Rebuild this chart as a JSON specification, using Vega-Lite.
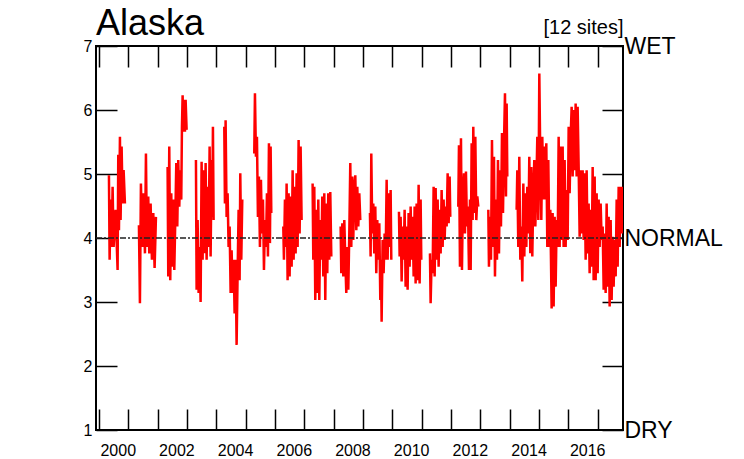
{
"$schema": "https://vega.github.io/schema/vega-lite/v6.json",
"width": 527, "height": 384,
"autosize": {"type": "none"},
"padding": {"left": 96, "top": 46, "right": 121, "bottom": 29},
"title": {"text": "Alaska", "anchor": "start", "frame": "group", "fontSize": 36, "font": "Liberation Sans", "fontWeight": "normal", "color": "black", "offset": -26},
"config": {"view": {"stroke": "black", "strokeWidth": 2}, "font": "Liberation Sans", "axis": {"grid": false, "domain": false, "tickColor": "black", "tickWidth": 1.5, "labelColor": "black", "labelFont": "Liberation Sans"}},
"data": {"values": [
{"t":2000.341,"v":4.98,"s":2000},{"t":2000.364,"v":3.66,"s":2000},{"t":2000.398,"v":4.60,"s":2000},{"t":2000.432,"v":3.86,"s":2000},{"t":2000.466,"v":4.80,"s":2000},{"t":2000.500,"v":3.86,"s":2000},{"t":2000.568,"v":4.44,"s":2000},{"t":2000.602,"v":3.97,"s":2000},{"t":2000.636,"v":3.50,"s":2000},{"t":2000.659,"v":5.30,"s":2000},{"t":2000.682,"v":4.12,"s":2000},{"t":2000.716,"v":5.58,"s":2000},{"t":2000.738,"v":4.28,"s":2000},{"t":2000.773,"v":5.43,"s":2000},{"t":2000.807,"v":4.54,"s":2000},{"t":2000.841,"v":5.06,"s":2000},{"t":2000.886,"v":4.54,"s":2000},
{"t":2001.363,"v":4.20,"s":2001},{"t":2001.397,"v":2.98,"s":2001},{"t":2001.431,"v":4.85,"s":2001},{"t":2001.477,"v":3.86,"s":2001},{"t":2001.522,"v":4.70,"s":2001},{"t":2001.568,"v":3.76,"s":2001},{"t":2001.602,"v":5.32,"s":2001},{"t":2001.636,"v":3.86,"s":2001},{"t":2001.681,"v":4.65,"s":2001},{"t":2001.716,"v":3.76,"s":2001},{"t":2001.761,"v":4.54,"s":2001},{"t":2001.806,"v":3.66,"s":2001},{"t":2001.852,"v":4.39,"s":2001},{"t":2001.897,"v":3.53,"s":2001},{"t":2001.943,"v":4.33,"s":2001},
{"t":2002.340,"v":5.11,"s":2002},{"t":2002.363,"v":3.40,"s":2002},{"t":2002.397,"v":5.43,"s":2002},{"t":2002.431,"v":3.34,"s":2002},{"t":2002.465,"v":4.70,"s":2002},{"t":2002.499,"v":3.55,"s":2002},{"t":2002.534,"v":4.60,"s":2002},{"t":2002.568,"v":3.50,"s":2002},{"t":2002.602,"v":4.28,"s":2002},{"t":2002.636,"v":5.17,"s":2002},{"t":2002.670,"v":4.18,"s":2002},{"t":2002.704,"v":5.22,"s":2002},{"t":2002.738,"v":4.49,"s":2002},{"t":2002.772,"v":5.06,"s":2002},{"t":2002.806,"v":4.60,"s":2002},{"t":2002.829,"v":5.74,"s":2002},{"t":2002.852,"v":6.23,"s":2002},{"t":2002.874,"v":5.66,"s":2002},{"t":2002.897,"v":6.16,"s":2002},{"t":2002.931,"v":5.66,"s":2002},{"t":2002.954,"v":6.16,"s":2002},{"t":2002.988,"v":5.69,"s":2002},
{"t":2003.306,"v":5.22,"s":2003},{"t":2003.329,"v":3.19,"s":2003},{"t":2003.363,"v":4.28,"s":2003},{"t":2003.397,"v":3.14,"s":2003},{"t":2003.431,"v":3.86,"s":2003},{"t":2003.465,"v":3.00,"s":2003},{"t":2003.499,"v":5.19,"s":2003},{"t":2003.533,"v":3.66,"s":2003},{"t":2003.567,"v":5.06,"s":2003},{"t":2003.601,"v":3.76,"s":2003},{"t":2003.636,"v":5.17,"s":2003},{"t":2003.670,"v":3.66,"s":2003},{"t":2003.704,"v":4.80,"s":2003},{"t":2003.738,"v":3.86,"s":2003},{"t":2003.772,"v":5.43,"s":2003},{"t":2003.806,"v":3.71,"s":2003},{"t":2003.840,"v":5.22,"s":2003},{"t":2003.863,"v":4.33,"s":2003},{"t":2003.885,"v":5.74,"s":2003},{"t":2003.908,"v":4.28,"s":2003},
{"t":2004.272,"v":5.74,"s":2004},{"t":2004.294,"v":4.54,"s":2004},{"t":2004.317,"v":5.84,"s":2004},{"t":2004.351,"v":4.33,"s":2004},{"t":2004.385,"v":4.70,"s":2004},{"t":2004.419,"v":3.86,"s":2004},{"t":2004.454,"v":4.18,"s":2004},{"t":2004.488,"v":3.14,"s":2004},{"t":2004.522,"v":3.81,"s":2004},{"t":2004.556,"v":3.14,"s":2004},{"t":2004.590,"v":3.66,"s":2004},{"t":2004.624,"v":2.82,"s":2004},{"t":2004.658,"v":3.66,"s":2004},{"t":2004.692,"v":2.33,"s":2004},{"t":2004.726,"v":3.45,"s":2004},{"t":2004.760,"v":4.44,"s":2004},{"t":2004.794,"v":3.34,"s":2004},{"t":2004.817,"v":5.01,"s":2004},{"t":2004.851,"v":3.66,"s":2004},{"t":2004.885,"v":4.60,"s":2004},
{"t":2005.294,"v":5.32,"s":2005},{"t":2005.317,"v":6.26,"s":2005},{"t":2005.351,"v":5.27,"s":2005},{"t":2005.385,"v":5.58,"s":2005},{"t":2005.419,"v":4.33,"s":2005},{"t":2005.453,"v":4.96,"s":2005},{"t":2005.487,"v":3.86,"s":2005},{"t":2005.521,"v":4.91,"s":2005},{"t":2005.556,"v":4.07,"s":2005},{"t":2005.590,"v":4.60,"s":2005},{"t":2005.624,"v":3.50,"s":2005},{"t":2005.658,"v":4.28,"s":2005},{"t":2005.692,"v":3.86,"s":2005},{"t":2005.726,"v":4.70,"s":2005},{"t":2005.760,"v":3.71,"s":2005},{"t":2005.794,"v":5.48,"s":2005},{"t":2005.828,"v":3.92,"s":2005},{"t":2005.851,"v":5.43,"s":2005},{"t":2005.874,"v":4.39,"s":2005},
{"t":2006.283,"v":4.18,"s":2006},{"t":2006.305,"v":3.66,"s":2006},{"t":2006.339,"v":4.60,"s":2006},{"t":2006.374,"v":3.86,"s":2006},{"t":2006.396,"v":4.85,"s":2006},{"t":2006.430,"v":3.34,"s":2006},{"t":2006.464,"v":4.70,"s":2006},{"t":2006.498,"v":3.40,"s":2006},{"t":2006.533,"v":4.65,"s":2006},{"t":2006.567,"v":3.55,"s":2006},{"t":2006.601,"v":5.06,"s":2006},{"t":2006.635,"v":3.66,"s":2006},{"t":2006.669,"v":4.80,"s":2006},{"t":2006.703,"v":3.76,"s":2006},{"t":2006.737,"v":5.01,"s":2006},{"t":2006.771,"v":3.86,"s":2006},{"t":2006.805,"v":5.53,"s":2006},{"t":2006.839,"v":4.07,"s":2006},{"t":2006.873,"v":5.43,"s":2006},{"t":2006.907,"v":4.28,"s":2006},
{"t":2007.282,"v":4.85,"s":2007},{"t":2007.305,"v":3.66,"s":2007},{"t":2007.339,"v":4.80,"s":2007},{"t":2007.373,"v":3.03,"s":2007},{"t":2007.407,"v":4.44,"s":2007},{"t":2007.441,"v":3.14,"s":2007},{"t":2007.476,"v":4.60,"s":2007},{"t":2007.510,"v":3.03,"s":2007},{"t":2007.544,"v":4.28,"s":2007},{"t":2007.578,"v":3.66,"s":2007},{"t":2007.612,"v":4.65,"s":2007},{"t":2007.646,"v":3.40,"s":2007},{"t":2007.680,"v":4.70,"s":2007},{"t":2007.714,"v":3.03,"s":2007},{"t":2007.748,"v":4.54,"s":2007},{"t":2007.782,"v":3.45,"s":2007},{"t":2007.816,"v":4.70,"s":2007},{"t":2007.850,"v":3.66,"s":2007},{"t":2007.884,"v":4.72,"s":2007},{"t":2007.919,"v":3.71,"s":2007},
{"t":2008.237,"v":4.18,"s":2008},{"t":2008.259,"v":3.45,"s":2008},{"t":2008.294,"v":4.23,"s":2008},{"t":2008.328,"v":3.40,"s":2008},{"t":2008.362,"v":4.28,"s":2008},{"t":2008.396,"v":3.66,"s":2008},{"t":2008.430,"v":3.14,"s":2008},{"t":2008.464,"v":3.86,"s":2008},{"t":2008.498,"v":3.19,"s":2008},{"t":2008.532,"v":4.07,"s":2008},{"t":2008.566,"v":5.17,"s":2008},{"t":2008.600,"v":3.86,"s":2008},{"t":2008.634,"v":4.96,"s":2008},{"t":2008.668,"v":3.97,"s":2008},{"t":2008.703,"v":4.80,"s":2008},{"t":2008.737,"v":4.98,"s":2008},{"t":2008.771,"v":4.12,"s":2008},{"t":2008.805,"v":4.80,"s":2008},{"t":2008.839,"v":4.18,"s":2008},{"t":2008.873,"v":4.70,"s":2008},{"t":2008.907,"v":4.28,"s":2008},
{"t":2009.236,"v":4.39,"s":2009},{"t":2009.259,"v":3.71,"s":2009},{"t":2009.282,"v":5.32,"s":2009},{"t":2009.316,"v":4.07,"s":2009},{"t":2009.350,"v":4.54,"s":2009},{"t":2009.384,"v":3.76,"s":2009},{"t":2009.418,"v":4.49,"s":2009},{"t":2009.452,"v":3.45,"s":2009},{"t":2009.486,"v":4.28,"s":2009},{"t":2009.520,"v":3.66,"s":2009},{"t":2009.555,"v":4.23,"s":2009},{"t":2009.589,"v":3.03,"s":2009},{"t":2009.611,"v":3.66,"s":2009},{"t":2009.634,"v":2.69,"s":2009},{"t":2009.668,"v":3.97,"s":2009},{"t":2009.702,"v":3.45,"s":2009},{"t":2009.736,"v":4.07,"s":2009},{"t":2009.770,"v":3.66,"s":2009},{"t":2009.805,"v":4.91,"s":2009},{"t":2009.839,"v":3.66,"s":2009},{"t":2009.873,"v":4.70,"s":2009},{"t":2009.907,"v":3.86,"s":2009},{"t":2009.941,"v":4.75,"s":2009},{"t":2009.964,"v":3.66,"s":2009},
{"t":2010.225,"v":4.41,"s":2010},{"t":2010.248,"v":3.71,"s":2010},{"t":2010.282,"v":4.33,"s":2010},{"t":2010.316,"v":3.32,"s":2010},{"t":2010.350,"v":4.18,"s":2010},{"t":2010.384,"v":3.66,"s":2010},{"t":2010.418,"v":4.44,"s":2010},{"t":2010.452,"v":3.24,"s":2010},{"t":2010.486,"v":4.18,"s":2010},{"t":2010.520,"v":3.19,"s":2010},{"t":2010.554,"v":4.39,"s":2010},{"t":2010.588,"v":3.55,"s":2010},{"t":2010.623,"v":4.49,"s":2010},{"t":2010.657,"v":3.66,"s":2010},{"t":2010.691,"v":4.33,"s":2010},{"t":2010.725,"v":3.40,"s":2010},{"t":2010.759,"v":4.49,"s":2010},{"t":2010.793,"v":3.29,"s":2010},{"t":2010.827,"v":4.54,"s":2010},{"t":2010.861,"v":3.34,"s":2010},{"t":2010.895,"v":4.83,"s":2010},{"t":2010.929,"v":3.29,"s":2010},{"t":2010.963,"v":4.60,"s":2010},{"t":2010.986,"v":3.66,"s":2010},
{"t":2011.281,"v":3.76,"s":2011},{"t":2011.304,"v":2.98,"s":2011},{"t":2011.338,"v":3.66,"s":2011},{"t":2011.372,"v":3.45,"s":2011},{"t":2011.406,"v":4.80,"s":2011},{"t":2011.441,"v":3.40,"s":2011},{"t":2011.475,"v":4.78,"s":2011},{"t":2011.509,"v":3.66,"s":2011},{"t":2011.543,"v":4.60,"s":2011},{"t":2011.577,"v":3.55,"s":2011},{"t":2011.611,"v":4.44,"s":2011},{"t":2011.645,"v":3.76,"s":2011},{"t":2011.679,"v":4.75,"s":2011},{"t":2011.713,"v":3.86,"s":2011},{"t":2011.747,"v":4.60,"s":2011},{"t":2011.781,"v":3.97,"s":2011},{"t":2011.815,"v":4.49,"s":2011},{"t":2011.850,"v":4.18,"s":2011},{"t":2011.884,"v":5.01,"s":2011},{"t":2011.918,"v":4.23,"s":2011},{"t":2011.952,"v":4.96,"s":2011},{"t":2011.974,"v":4.33,"s":2011},
{"t":2012.247,"v":4.49,"s":2012},{"t":2012.270,"v":5.45,"s":2012},{"t":2012.304,"v":3.55,"s":2012},{"t":2012.338,"v":5.56,"s":2012},{"t":2012.372,"v":3.50,"s":2012},{"t":2012.406,"v":4.70,"s":2012},{"t":2012.440,"v":5.01,"s":2012},{"t":2012.474,"v":4.07,"s":2012},{"t":2012.508,"v":5.04,"s":2012},{"t":2012.543,"v":4.18,"s":2012},{"t":2012.577,"v":4.49,"s":2012},{"t":2012.611,"v":3.50,"s":2012},{"t":2012.645,"v":4.60,"s":2012},{"t":2012.668,"v":3.50,"s":2012},{"t":2012.702,"v":5.48,"s":2012},{"t":2012.736,"v":4.28,"s":2012},{"t":2012.758,"v":5.74,"s":2012},{"t":2012.792,"v":4.39,"s":2012},{"t":2012.827,"v":5.58,"s":2012},{"t":2012.861,"v":4.28,"s":2012},{"t":2012.895,"v":4.65,"s":2012},{"t":2012.929,"v":4.49,"s":2012},
{"t":2013.270,"v":4.44,"s":2013},{"t":2013.292,"v":3.55,"s":2013},{"t":2013.326,"v":4.33,"s":2013},{"t":2013.361,"v":3.66,"s":2013},{"t":2013.395,"v":5.53,"s":2013},{"t":2013.429,"v":3.86,"s":2013},{"t":2013.463,"v":5.27,"s":2013},{"t":2013.497,"v":3.40,"s":2013},{"t":2013.531,"v":4.60,"s":2013},{"t":2013.565,"v":3.66,"s":2013},{"t":2013.599,"v":5.22,"s":2013},{"t":2013.633,"v":3.76,"s":2013},{"t":2013.667,"v":5.06,"s":2013},{"t":2013.701,"v":4.18,"s":2013},{"t":2013.736,"v":5.64,"s":2013},{"t":2013.770,"v":4.39,"s":2013},{"t":2013.804,"v":5.48,"s":2013},{"t":2013.838,"v":6.26,"s":2013},{"t":2013.872,"v":4.65,"s":2013},{"t":2013.895,"v":6.10,"s":2013},{"t":2013.917,"v":4.96,"s":2013},
{"t":2014.235,"v":4.44,"s":2014},{"t":2014.258,"v":5.06,"s":2014},{"t":2014.292,"v":3.86,"s":2014},{"t":2014.326,"v":5.27,"s":2014},{"t":2014.360,"v":3.66,"s":2014},{"t":2014.394,"v":4.18,"s":2014},{"t":2014.428,"v":3.32,"s":2014},{"t":2014.463,"v":4.85,"s":2014},{"t":2014.497,"v":3.71,"s":2014},{"t":2014.531,"v":4.70,"s":2014},{"t":2014.565,"v":3.86,"s":2014},{"t":2014.599,"v":4.80,"s":2014},{"t":2014.633,"v":4.07,"s":2014},{"t":2014.667,"v":5.27,"s":2014},{"t":2014.701,"v":3.76,"s":2014},{"t":2014.735,"v":5.11,"s":2014},{"t":2014.769,"v":3.71,"s":2014},{"t":2014.803,"v":4.70,"s":2014},{"t":2014.837,"v":5.22,"s":2014},{"t":2014.872,"v":4.18,"s":2014},{"t":2014.906,"v":4.80,"s":2014},{"t":2014.940,"v":5.58,"s":2014},{"t":2014.974,"v":4.28,"s":2014},{"t":2015.008,"v":6.57,"s":2014},{"t":2015.042,"v":5.22,"s":2014},{"t":2015.076,"v":4.28,"s":2014},{"t":2015.110,"v":5.58,"s":2014},{"t":2015.144,"v":4.60,"s":2014},{"t":2015.178,"v":5.43,"s":2014},{"t":2015.212,"v":4.60,"s":2014},{"t":2015.246,"v":5.48,"s":2014},{"t":2015.281,"v":3.86,"s":2014},{"t":2015.315,"v":5.22,"s":2014},{"t":2015.349,"v":3.86,"s":2014},{"t":2015.383,"v":4.44,"s":2014},{"t":2015.428,"v":2.90,"s":2014},{"t":2015.462,"v":4.39,"s":2014},{"t":2015.496,"v":2.93,"s":2014},{"t":2015.531,"v":4.33,"s":2014},{"t":2015.565,"v":3.24,"s":2014},{"t":2015.599,"v":4.28,"s":2014},{"t":2015.633,"v":3.86,"s":2014},{"t":2015.667,"v":5.58,"s":2014},{"t":2015.701,"v":3.86,"s":2014},{"t":2015.735,"v":5.43,"s":2014},{"t":2015.769,"v":3.97,"s":2014},{"t":2015.803,"v":5.43,"s":2014},{"t":2015.837,"v":3.86,"s":2014},{"t":2015.871,"v":5.22,"s":2014},{"t":2015.905,"v":3.86,"s":2014},{"t":2015.939,"v":4.75,"s":2014},{"t":2015.974,"v":3.97,"s":2014},{"t":2016.008,"v":5.74,"s":2014},{"t":2016.042,"v":4.70,"s":2014},{"t":2016.076,"v":5.58,"s":2014},{"t":2016.110,"v":6.05,"s":2014},{"t":2016.144,"v":4.96,"s":2014},{"t":2016.178,"v":6.00,"s":2014},{"t":2016.212,"v":5.06,"s":2014},{"t":2016.246,"v":6.10,"s":2014},{"t":2016.280,"v":4.96,"s":2014},{"t":2016.314,"v":6.05,"s":2014},{"t":2016.349,"v":5.11,"s":2014},{"t":2016.383,"v":4.02,"s":2014},{"t":2016.417,"v":5.06,"s":2014},{"t":2016.451,"v":4.07,"s":2014},{"t":2016.485,"v":5.06,"s":2014},{"t":2016.519,"v":3.97,"s":2014},{"t":2016.553,"v":5.01,"s":2014},{"t":2016.587,"v":3.66,"s":2014},{"t":2016.621,"v":5.06,"s":2014},{"t":2016.655,"v":3.76,"s":2014},{"t":2016.689,"v":4.54,"s":2014},{"t":2016.723,"v":3.45,"s":2014},{"t":2016.758,"v":4.44,"s":2014},{"t":2016.792,"v":3.55,"s":2014},{"t":2016.826,"v":5.11,"s":2014},{"t":2016.860,"v":3.34,"s":2014},{"t":2016.894,"v":4.96,"s":2014},{"t":2016.928,"v":3.34,"s":2014},{"t":2016.962,"v":4.70,"s":2014},{"t":2016.996,"v":3.45,"s":2014},{"t":2017.030,"v":4.60,"s":2014},{"t":2017.064,"v":3.86,"s":2014},{"t":2017.098,"v":4.54,"s":2014},{"t":2017.132,"v":3.97,"s":2014},{"t":2017.167,"v":4.18,"s":2014},{"t":2017.201,"v":3.19,"s":2014},{"t":2017.235,"v":4.07,"s":2014},{"t":2017.269,"v":3.14,"s":2014},{"t":2017.303,"v":4.54,"s":2014},{"t":2017.337,"v":3.24,"s":2014},{"t":2017.371,"v":4.33,"s":2014},{"t":2017.405,"v":2.93,"s":2014},{"t":2017.439,"v":4.28,"s":2014},{"t":2017.473,"v":3.03,"s":2014},{"t":2017.507,"v":4.02,"s":2014},{"t":2017.541,"v":3.24,"s":2014},{"t":2017.576,"v":3.97,"s":2014},{"t":2017.610,"v":3.40,"s":2014},{"t":2017.644,"v":4.60,"s":2014},{"t":2017.678,"v":3.55,"s":2014},{"t":2017.712,"v":4.80,"s":2014},{"t":2017.746,"v":3.86,"s":2014},{"t":2017.780,"v":4.80,"s":2014},{"t":2017.814,"v":4.07,"s":2014},{"t":2017.837,"v":4.80,"s":2014}
]},
"layer": [
{"mark": {"type": "line", "color": "#ff0000", "strokeWidth": 2.5, "clip": true},
 "encoding": {
  "x": {"field": "t", "type": "quantitative", "scale": {"domain": [1999.9, 2017.86], "nice": false, "zero": false},
        "axis": {"orient": "bottom", "title": null, "values": [2000,2001,2002,2003,2004,2005,2006,2007,2008,2009,2010,2011,2012,2013,2014,2015,2016,2017], "tickSize": -21, "format": "d", "labelExpr": "datum.value % 2 == 0 ? datum.label : ''", "labelAlign": "left", "labelOffset": 1, "labelFlush": false, "labelOverlap": false, "labelFontSize": 16, "labelPadding": 33}},
  "y": {"field": "v", "type": "quantitative", "scale": {"domain": [1, 7], "nice": false, "zero": false},
        "axis": {"orient": "left", "title": null, "values": [1,2,3,4,5,6,7], "tickSize": -21, "format": "d", "labelFontSize": 16, "labelPadding": 25, "labelFlush": false, "labelOverlap": false}},
  "detail": {"field": "s", "type": "nominal"}
 }},
{"data": {"values": [{"level": 4}]},
 "mark": {"type": "rule", "stroke": "#222222", "strokeWidth": 1.5, "strokeDash": [6, 2, 2, 2]},
 "encoding": {
  "x": {"datum": 1999.9, "type": "quantitative", "scale": {"domain": [1999.9, 2017.86], "nice": false, "zero": false},
        "axis": {"orient": "top", "title": "[12 sites]", "titleAnchor": "end", "titleAlign": "right", "titleFontSize": 20, "titleFontWeight": "normal", "titleColor": "black", "titleFont": "Liberation Sans", "titlePadding": 8, "values": [2000,2001,2002,2003,2004,2005,2006,2007,2008,2009,2010,2011,2012,2013,2014,2015,2016,2017], "tickSize": -21, "labels": false}},
  "x2": {"datum": 2017.86},
  "y": {"field": "level", "type": "quantitative", "scale": {"domain": [1, 7], "nice": false, "zero": false},
        "axis": {"orient": "right", "title": null, "values": [1,2,3,4,5,6,7], "tickSize": -21, "labelExpr": "datum.value == 7 ? 'WET' : datum.value == 4 ? 'NORMAL' : datum.value == 1 ? 'DRY' : ''", "labelFontSize": 23, "labelPadding": 22, "labelFlush": false, "labelOverlap": false}}
 }}
],
"resolve": {"axis": {"x": "independent", "y": "independent"}}
}
